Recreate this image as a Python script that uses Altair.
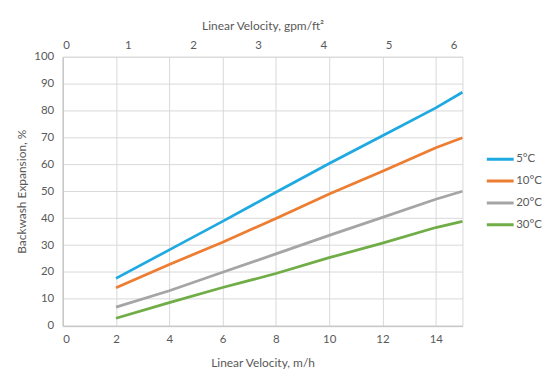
import altair as alt
import pandas as pd

velocity_mh = [2, 4, 6, 8, 10, 12, 14, 15]
series_names = ["5°C", "10°C", "20°C", "30°C"]
exp_5 = [17.6, 28.2, 38.8, 49.6, 60.3, 70.6, 81.0, 86.8]
exp_10 = [14.1, 22.8, 31.0, 39.9, 49.0, 57.4, 66.2, 69.9]
exp_20 = [6.9, 13.0, 19.9, 26.7, 33.6, 40.3, 47.0, 50.0]
exp_30 = [2.8, 8.6, 14.2, 19.4, 25.3, 30.7, 36.5, 38.8]
colors = ["#1FA9E1", "#ED7D31", "#A5A5A5", "#70AD47"]

bottom_ticks = [0, 2, 4, 6, 8, 10, 12, 14]
top_ticks = [0, 1, 2, 3, 4, 5, 6]
y_ticks = [0, 10, 20, 30, 40, 50, 60, 70, 80, 90, 100]
MH_PER_GPMFT2 = 2.4448

rows = []
for name, vals in zip(series_names, [exp_5, exp_10, exp_20, exp_30]):
    for x, v in zip(velocity_mh, vals):
        rows.append({"v": x, "e": v, "s": name})
df = pd.DataFrame(rows)

FONT = "Lato"
TXT = "#595959"

lines = alt.Chart(df).mark_line(strokeWidth=2.75).encode(
    x=alt.X("v:Q", scale=alt.Scale(domain=[0, 15], nice=False),
            axis=alt.Axis(values=bottom_ticks, title="Linear Velocity, m/h",
                          grid=True, ticks=False, labelPadding=8, titlePadding=12)),
    y=alt.Y("e:Q", scale=alt.Scale(domain=[0, 100], nice=False),
            axis=alt.Axis(values=y_ticks, title="Backwash Expansion, %",
                          grid=True, ticks=False, labelPadding=9, titlePadding=5,
                          labelOverlap=False)),
    color=alt.Color("s:N", scale=alt.Scale(domain=series_names, range=colors),
                    legend=alt.Legend(title=None, orient="none", legendX=425, legendY=95,
                                      symbolType="stroke", symbolSize=729,
                                      symbolStrokeWidth=3, clipHeight=16,
                                      rowPadding=6, labelOffset=1, padding=0)),
)

top_df = pd.DataFrame({"g": [0, 15 / MH_PER_GPMFT2]})
top = alt.Chart(top_df).mark_point(opacity=0).encode(
    x=alt.X("g:Q", scale=alt.Scale(domain=[0, 15 / MH_PER_GPMFT2], nice=False, zero=False),
            axis=alt.Axis(orient="top", values=top_ticks, title="Linear Velocity, gpm/ft²",
                          grid=False, ticks=False, domain=False, labelPadding=6, titlePadding=7)),
    y=alt.value(0),
)

chart = alt.layer(lines, top).resolve_scale(x="independent").properties(
    width=402, height=270.5,
    autosize=alt.AutoSizeParams(type="none"),
    padding={"left": 55, "top": 48, "right": 80, "bottom": 45},
).configure_view(stroke="#D9D9D9", strokeWidth=1).configure_axis(
    labelFont=FONT, titleFont=FONT, labelColor=TXT, titleColor=TXT,
    labelFontSize=11.5, titleFontSize=12, titleFontWeight="normal",
    gridColor="#D9D9D9", gridWidth=1, domainColor="#BFBFBF",
).configure_legend(labelFont=FONT, labelFontSize=11.5, labelColor=TXT)

chart.save("out.html", embed_options={"renderer": "svg", "actions": False})
